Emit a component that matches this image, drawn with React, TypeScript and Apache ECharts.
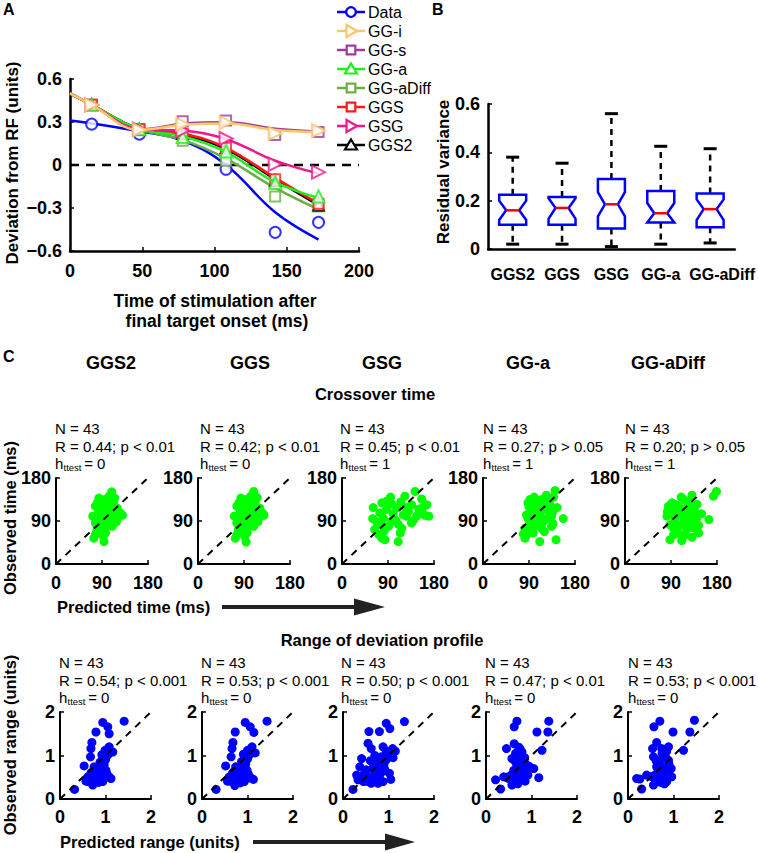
import React, { useEffect, useRef } from "react";
import * as echarts from "echarts";

const FONT = '"Liberation Sans", Arial, Helvetica, sans-serif';

// ---------- Panel A : deviation profiles ----------
const fitTimes = [0, 15, 48, 78, 108, 142, 172];
const markTimes = [15, 48, 78, 108, 142, 172];
const dataMarkTimes = [15, 48, 108, 142, 172];
const dataMarkVals = [0.285, 0.215, -0.03, -0.47, -0.4];
const dataFitVals = [0.31, 0.29, 0.235, 0.17, 0.0, -0.33, -0.52];

const ggiFit = [0.5, 0.42, 0.245, 0.28, 0.29, 0.245, 0.23];
const ggiMarks = [0.42, 0.245, 0.285, 0.295, 0.22, 0.24];
const ggsFitS = [0.5, 0.42, 0.25, 0.29, 0.3, 0.255, 0.235];
const ggsMarksS = [0.42, 0.25, 0.305, 0.31, 0.21, 0.23];
const ggaFit = [0.5, 0.42, 0.25, 0.2, 0.09, -0.12, -0.23];
const ggaMarks = [0.42, 0.25, 0.195, 0.095, -0.125, -0.22];
const ggaDiffFit = [0.5, 0.42, 0.25, 0.175, 0.045, -0.16, -0.31];
const ggaDiffMarks = [0.42, 0.25, 0.17, 0.03, -0.22, -0.29];
const ggsFit = [0.5, 0.42, 0.25, 0.22, 0.12, -0.09, -0.27];
const ggsMarks = [0.42, 0.25, 0.22, 0.12, -0.1, -0.27];
const gsgFit = [0.5, 0.42, 0.25, 0.24, 0.18, 0.03, -0.06];
const gsgMarks = [0.42, 0.25, 0.24, 0.185, 0.005, -0.05];
const ggs2Fit = [0.5, 0.42, 0.25, 0.21, 0.11, -0.1, -0.28];
const ggs2Marks = [0.42, 0.25, 0.22, 0.12, -0.11, -0.28];

const legendNames = ["Data", "GG-i", "GG-s", "GG-a", "GG-aDiff", "GGS", "GSG", "GGS2"];

// ---------- Panel B : residual variance box plots ----------
const boxCats = ["GGS2", "GGS", "GSG", "GG-a", "GG-aDiff"];
const boxLow = [0.02, 0.02, 0.01, 0.02, 0.025];
const boxQ1 = [0.1, 0.1, 0.085, 0.11, 0.09];
const boxMed = [0.16, 0.17, 0.185, 0.148, 0.165];
const boxQ3 = [0.225, 0.215, 0.29, 0.24, 0.23];
const boxHigh = [0.38, 0.355, 0.56, 0.425, 0.415];
const notchLo = [0.12, 0.125, 0.135, 0.11, 0.12];
const notchHi = [0.2, 0.21, 0.235, 0.19, 0.205];

// ---------- Panel C : columns ----------
const modelCols = ["GGS2", "GGS", "GSG", "GG-a", "GG-aDiff"];
const timeStatsR = ["R = 0.44; p < 0.01", "R = 0.42; p < 0.01", "R = 0.45; p < 0.01", "R = 0.27; p > 0.05", "R = 0.20; p > 0.05"];
const timeStatsH = ["0", "0", "1", "1", "1"];
const rangeStatsR = ["R = 0.54; p < 0.001", "R = 0.53; p < 0.001", "R = 0.50; p < 0.001", "R = 0.47; p < 0.01", "R = 0.53; p < 0.001"];
const rangeStatsH = ["0", "0", "0", "0", "0"];
const timeTicks = [0, 90, 180];
const rangeTicks = [0, 1, 2];

// crossover time (predicted, observed) ms
const crossGGS2 = [[109,151],[115,138],[104,142],[84,138],[81,128],[94,128],[77,121],[101,119],[120,117],[91,113],[84,110],[101,110],[126,107],[110,103],[130,102],[97,100],[79,96],[120,96],[87,89],[104,89],[77,86],[110,79],[94,75],[81,75],[97,65],[77,62],[74,54],[94,47],[88,120],[113,125],[107,95],[90,83],[100,80],[72,100],[118,88],[85,102],[96,135],[106,130],[80,70],[92,58],[112,112],[99,92],[83,115]];
const crossGGS = [[109,152],[116,139],[103,142],[84,138],[80,128],[94,129],[76,121],[100,119],[121,117],[90,113],[83,110],[100,110],[127,106],[109,103],[129,102],[96,100],[78,96],[119,96],[86,89],[103,89],[76,86],[109,79],[93,75],[80,75],[96,65],[76,62],[73,54],[94,46],[87,120],[112,125],[106,95],[89,83],[99,80],[71,100],[117,88],[84,102],[95,135],[105,130],[79,70],[91,58],[111,112],[98,92],[82,115]];
const crossGSG = [[143,152],[123,142],[156,136],[78,128],[97,126],[136,124],[166,124],[61,118],[107,117],[87,114],[74,107],[120,103],[126,100],[146,100],[162,102],[81,96],[97,89],[136,86],[78,82],[91,79],[117,75],[64,72],[114,65],[78,54],[110,47],[84,51],[130,110],[150,115],[100,105],[115,130],[170,100],[60,95],[88,132],[140,92],[68,88],[105,92],[155,108],[95,140],[125,118],[83,70],[72,62],[158,118],[110,83]];
const crossGGa = [[141,154],[124,144],[88,128],[108,128],[131,124],[98,117],[121,114],[137,110],[85,103],[111,103],[134,100],[105,96],[157,95],[92,89],[118,89],[137,84],[82,75],[115,75],[134,79],[98,65],[79,63],[82,54],[111,47],[143,51],[95,110],[115,135],[100,140],[128,132],[90,120],[120,120],[108,85],[125,95],[88,95],[102,80],[145,118],[112,112],[130,105],[95,72],[85,60],[120,68],[100,122],[138,140],[92,135]];
const crossGGaDiff = [[179,152],[173,142],[131,144],[115,135],[85,121],[101,124],[124,124],[141,125],[95,114],[118,110],[137,110],[82,100],[98,100],[121,98],[137,100],[164,93],[88,82],[111,82],[128,86],[144,81],[101,72],[121,72],[95,61],[144,65],[131,56],[111,49],[88,51],[108,118],[92,128],[115,95],[130,115],[105,105],[125,130],[140,95],[98,90],[118,60],[83,110],[110,140],[150,105],[95,75],[135,75],[105,64],[127,105]];

// range of deviation profile (predicted, observed) units
const rangeGGS2 = [[1.41,1.79],[0.94,1.76],[1.05,1.66],[1.08,1.5],[0.79,1.54],[0.7,1.3],[0.68,1.16],[0.67,0.97],[1.08,1.2],[0.99,1.12],[1.16,1.08],[1.05,1.01],[0.94,0.93],[0.9,0.74],[0.75,0.74],[0.53,0.76],[1.01,0.66],[0.83,0.63],[0.68,0.59],[0.61,0.51],[0.75,0.51],[0.94,0.51],[1.08,0.51],[0.57,0.41],[0.75,0.44],[0.94,0.4],[1.12,0.47],[0.72,0.32],[0.32,0.22],[0.86,0.59],[0.97,0.78],[0.8,0.45],[0.65,0.45],[0.88,0.85],[1.0,0.9],[0.7,0.62],[0.85,0.38],[0.62,0.4],[1.03,0.58],[0.78,0.55],[0.92,1.02],[0.96,0.46],[0.72,0.48]];
const rangeGGS = [[1.43,1.79],[0.95,1.76],[1.06,1.66],[1.14,1.53],[0.73,1.54],[0.68,1.3],[0.66,1.16],[0.64,0.97],[1.1,1.2],[1.0,1.12],[1.17,1.06],[1.04,1.01],[0.93,0.93],[0.88,0.74],[0.74,0.74],[0.52,0.76],[0.99,0.66],[0.82,0.63],[0.67,0.59],[0.6,0.51],[0.74,0.51],[0.93,0.51],[1.08,0.48],[0.56,0.41],[0.74,0.44],[0.93,0.4],[1.13,0.45],[0.72,0.31],[0.31,0.22],[0.85,0.59],[0.96,0.8],[0.8,0.46],[0.64,0.45],[0.87,0.86],[1.0,0.92],[0.7,0.63],[0.84,0.37],[0.61,0.41],[1.02,0.57],[0.78,0.54],[0.91,1.03],[0.97,0.47],[0.71,0.49]];
const rangeGSG = [[1.35,1.78],[0.95,1.74],[1.03,1.62],[0.8,1.55],[0.57,1.55],[0.55,1.28],[0.62,1.16],[0.88,1.2],[1.09,1.16],[0.98,1.05],[0.84,0.97],[0.95,0.9],[0.77,0.82],[0.41,0.93],[0.37,0.74],[0.51,0.67],[0.44,0.55],[0.59,0.51],[0.66,0.82],[0.73,0.67],[0.91,0.7],[0.66,0.7],[1.02,0.59],[0.88,0.4],[0.62,0.36],[0.51,0.51],[0.55,0.4],[0.77,0.36],[0.33,0.44],[0.22,0.22],[0.7,0.55],[0.8,0.5],[1.05,0.45],[0.85,0.62],[0.95,1.1],[1.15,1.1],[0.45,0.4],[0.7,1.0],[0.6,0.88],[0.3,0.55],[0.9,0.8],[0.75,0.45],[1.1,0.95]];
const rangeGGa = [[0.68,1.79],[0.62,1.66],[1.38,1.79],[1.12,1.54],[1.36,1.54],[1.23,1.12],[0.45,1.16],[0.62,1.27],[0.72,1.19],[0.79,1.08],[0.57,0.93],[0.75,0.93],[0.68,0.78],[0.86,0.82],[1.05,0.7],[0.61,0.66],[0.79,0.63],[0.68,0.55],[0.39,0.51],[0.5,0.47],[0.83,0.51],[1.16,0.49],[0.21,0.44],[0.57,0.32],[0.32,0.23],[0.86,0.41],[0.72,0.4],[0.65,1.05],[0.8,0.72],[0.6,0.45],[0.92,0.55],[0.7,0.6],[0.55,0.55],[0.85,0.95],[0.75,1.15],[0.65,0.85],[0.9,0.6],[0.45,0.5],[0.78,0.45],[0.62,0.58],[0.7,0.35],[0.82,0.65],[0.95,0.75]];
const rangeGGaDiff = [[0.7,1.79],[0.57,1.66],[1.46,1.81],[0.99,1.54],[1.36,1.54],[1.22,1.12],[0.63,1.3],[0.54,1.16],[0.74,1.16],[0.89,1.2],[0.56,0.97],[0.81,1.01],[0.7,0.89],[0.89,0.89],[0.63,0.74],[0.81,0.74],[0.41,0.55],[0.19,0.47],[0.59,0.55],[0.78,0.59],[0.96,0.51],[0.7,0.44],[0.56,0.32],[0.3,0.23],[0.85,0.4],[0.26,0.46],[0.75,1.05],[0.85,1.1],[0.65,0.6],[0.72,0.7],[0.88,0.65],[0.6,0.45],[0.78,0.5],[0.68,0.82],[0.9,0.8],[0.5,0.52],[0.72,0.38],[0.83,0.95],[0.62,0.88],[0.95,0.7],[0.66,0.5],[0.8,0.35],[0.75,0.62]];

const crossSets = [crossGGS2, crossGGS, crossGSG, crossGGa, crossGGaDiff];
const rangeSets = [rangeGGS2, rangeGGS, rangeGSG, rangeGGa, rangeGGaDiff];

// ---------- layout ----------
const row1Left = [56, 198, 342, 483, 625];
const row2Left = [60, 202, 343, 486, 628];
const row1TextX = [55, 200, 340, 483, 625];
const row2TextX = [59, 201, 341, 485, 628];
const colTitleX = [111, 250, 382, 528, 668];

const zip = (xs: number[], ys: number[]) => xs.map((x, i) => [x, ys[i]]);

function axisBase(fs: number, margin: number) {
  return {
    axisLine: { show: true, onZero: false, lineStyle: { color: "#000", width: 2 } },
    axisTick: { show: true, inside: true, length: 4, lineStyle: { color: "#000", width: 1.5 } },
    splitLine: { show: false },
    axisLabel: { color: "#000", fontSize: fs, fontWeight: "bold", fontFamily: FONT, margin },
  };
}

function txt(x: number, y: number, text: string, size: number, bold: boolean, align = "left", rot = 0): any {
  return {
    type: "text",
    x,
    y,
    rotation: rot,
    style: {
      text,
      fill: "#000",
      fontSize: size,
      fontWeight: bold ? "bold" : "normal",
      fontFamily: FONT,
      textAlign: align,
      textVerticalAlign: "middle",
    },
  };
}

function statBlock(x: number, yN: number, r: string, h: string): any[] {
  return [
    txt(x, yN, "N = 43", 15, false),
    txt(x, yN + 18, r, 15, false),
    txt(x, yN + 35, "h", 15, false),
    txt(x + 8.5, yN + 39, "ttest", 9.5, false),
    txt(x + 25, yN + 35, " = " + h, 15, false),
  ];
}

function legendMarker(kind: string, cx: number, cy: number, color: string): any {
  const style = { fill: "#fff", stroke: color, lineWidth: 2.2 };
  if (kind === "circle") return { type: "circle", shape: { cx, cy, r: 4.8 }, style };
  if (kind === "rect") return { type: "rect", shape: { x: cx - 4.3, y: cy - 4.3, width: 8.6, height: 8.6 }, style };
  if (kind === "up") return { type: "polygon", shape: { points: [[cx, cy - 5.5], [cx + 6, cy + 4.5], [cx - 6, cy + 4.5]] }, style };
  return { type: "polygon", shape: { points: [[cx + 6, cy], [cx - 4.5, cy - 6], [cx - 4.5, cy + 6]] }, style };
}

export default function App() {
  const ref = useRef<HTMLDivElement>(null);
  useEffect(() => {
    if (!ref.current) return;
    const chart = echarts.init(ref.current, undefined, { renderer: "svg" });

    const grids: any[] = [
      { left: 70, top: 79, width: 289, height: 172 },
      { left: 488, top: 104, width: 247, height: 145 },
    ];
    const xAxes: any[] = [
      { gridIndex: 0, type: "value", min: 0, max: 200, interval: 50, ...axisBase(18, 11) },
      {
        gridIndex: 1,
        type: "category",
        data: boxCats,
        ...axisBase(16, 17),
        axisTick: { show: false },
      },
    ];
    xAxes[1].axisLabel = {
      ...xAxes[1].axisLabel,
      interval: 0,
      hideOverlap: false,
      formatter: (v: string) => (v === "GG-aDiff" ? "{w|" + v + "}" : v),
      rich: {
        w: { fontSize: 16, fontWeight: "bold", fontFamily: FONT, color: "#000", padding: [0, 0, 0, 24] },
      },
    };
    const yAxes: any[] = [
      {
        gridIndex: 0,
        type: "value",
        min: -0.6,
        max: 0.6,
        interval: 0.3,
        ...axisBase(18, 8),
        axisLabel: {
          ...axisBase(18, 8).axisLabel,
          formatter: (v: number) => (v < 0 ? "\u2212" + Math.abs(v) : String(v)),
        },
      },
      { gridIndex: 1, type: "value", min: 0, max: 0.6, interval: 0.2, ...axisBase(18, 8) },
    ];
    xAxes[0].axisLine.lineStyle.width = 2.5;
    yAxes[0].axisLine.lineStyle.width = 2.5;
    xAxes[1].axisLine.lineStyle.width = 2.5;
    yAxes[1].axisLine.lineStyle.width = 2.5;

    const series: any[] = [];

    // zero line panel A
    series.push({
      type: "line",
      xAxisIndex: 0,
      yAxisIndex: 0,
      data: [[0, 0], [200, 0]],
      symbol: "none",
      silent: true,
      lineStyle: { color: "#000", width: 2.5, type: [9, 7] },
      z: 1,
    });

    const models = [
      { name: "GG-s", color: "#9B3C9E", symbol: "emptyRect", rot: 0, size: 10, fit: ggsFitS, marks: ggsMarksS },
      { name: "GG-aDiff", color: "#6AAE44", symbol: "emptyRect", rot: 0, size: 10, fit: ggaDiffFit, marks: ggaDiffMarks },
      { name: "GGS2", color: "#000000", symbol: "emptyTriangle", rot: 0, size: 11, fit: ggs2Fit, marks: ggs2Marks },
      { name: "GGS", color: "#FF1A1A", symbol: "emptyRect", rot: 0, size: 10, fit: ggsFit, marks: ggsMarks },
      { name: "GG-a", color: "#1EF01E", symbol: "emptyTriangle", rot: 0, size: 12, fit: ggaFit, marks: ggaMarks },
      { name: "GSG", color: "#F0188C", symbol: "emptyTriangle", rot: -90, size: 13, fit: gsgFit, marks: gsgMarks },
      { name: "GG-i", color: "#F9C66A", symbol: "emptyTriangle", rot: -90, size: 13, fit: ggiFit, marks: ggiMarks },
    ];
    const legendStyle: Record<string, { color: string; kind: string }> = {
      Data: { color: "#0000FF", kind: "circle" },
      "GG-i": { color: "#F9C66A", kind: "right" },
      "GG-s": { color: "#9B3C9E", kind: "rect" },
      "GG-a": { color: "#1EF01E", kind: "up" },
      "GG-aDiff": { color: "#6AAE44", kind: "rect" },
      GGS: { color: "#FF1A1A", kind: "rect" },
      GSG: { color: "#F0188C", kind: "right" },
      GGS2: { color: "#000000", kind: "up" },
    };

    // Data
    series.push({
      name: "Data",
      type: "line",
      xAxisIndex: 0,
      yAxisIndex: 0,
      data: zip(fitTimes, dataFitVals),
      smooth: 0.4,
      showSymbol: false,
      symbol: "none",
      lineStyle: { color: "#0000FF", width: 2.5 },
      z: 2,
    });
    series.push({
      name: "Data pts",
      type: "scatter",
      xAxisIndex: 0,
      yAxisIndex: 0,
      data: zip(dataMarkTimes, dataMarkVals),
      symbol: "emptyCircle",
      symbolSize: 11,
      itemStyle: { color: "#0000FF", borderWidth: 2.2 },
      z: 3,
    });

    models.forEach((m, k) => {
      series.push({
        name: m.name,
        type: "line",
        xAxisIndex: 0,
        yAxisIndex: 0,
        data: zip(fitTimes, m.fit),
        smooth: 0.4,
        showSymbol: false,
        symbol: "none",
        lineStyle: { color: m.color, width: m.name === "GG-s" ? 2 : 2.5 },
        z: 4 + k,
      });
      series.push({
        name: m.name + " pts",
        type: "scatter",
        xAxisIndex: 0,
        yAxisIndex: 0,
        data: zip(markTimes, m.marks),
        symbol: m.symbol,
        symbolRotate: m.rot,
        symbolSize: m.size,
        itemStyle: { color: m.color, borderWidth: 2.2 },
        z: 4 + k,
      });
    });

    // Panel B box plots
    const boxData = boxCats.map((_, i) => [i, boxLow[i], boxQ1[i], boxMed[i], boxQ3[i], boxHigh[i], notchLo[i], notchHi[i]]);
    series.push({
      type: "custom",
      xAxisIndex: 1,
      yAxisIndex: 1,
      data: boxData,
      encode: { x: 0, y: [1, 2, 3, 4, 5] },
      renderItem: (params: any, api: any) => {
        const idx = api.value(0);
        const c = (v: number) => api.coord([idx, v]);
        const x = c(api.value(3))[0];
        const ylo = c(api.value(1))[1];
        const yq1 = c(api.value(2))[1];
        const ym = c(api.value(3))[1];
        const yq3 = c(api.value(4))[1];
        const yhi = c(api.value(5))[1];
        const ynl = c(api.value(6))[1];
        const ynh = c(api.value(7))[1];
        const hw = 13.5, nw = 6.5, cap = 6.5;
        const dash = { stroke: "#000", lineWidth: 2.5, lineDash: [6, 5] };
        return {
          type: "group",
          children: [
            { type: "line", shape: { x1: x, y1: yq3, x2: x, y2: yhi }, style: dash },
            { type: "line", shape: { x1: x, y1: yq1, x2: x, y2: ylo }, style: dash },
            { type: "line", shape: { x1: x - cap, y1: yhi, x2: x + cap, y2: yhi }, style: { stroke: "#000", lineWidth: 3 } },
            { type: "line", shape: { x1: x - cap, y1: ylo, x2: x + cap, y2: ylo }, style: { stroke: "#000", lineWidth: 3 } },
            {
              type: "polygon",
              shape: {
                points: [
                  [x - hw, yq3], [x + hw, yq3], [x + hw, ynh], [x + nw, ym], [x + hw, ynl],
                  [x + hw, yq1], [x - hw, yq1], [x - hw, ynl], [x - nw, ym], [x - hw, ynh],
                ],
              },
              style: { fill: "#fff", stroke: "#0000FF", lineWidth: 2.5 },
            },
            { type: "line", shape: { x1: x - nw, y1: ym, x2: x + nw, y2: ym }, style: { stroke: "#FF0000", lineWidth: 2.5 } },
          ],
        };
      },
      z: 5,
    });

    // Panel C scatter grids
    const graphics: any[] = [];
    for (let i = 0; i < 5; i++) {
      const g1 = grids.length;
      grids.push({ left: row1Left[i], top: 478, width: 92, height: 86 });
      xAxes.push({ gridIndex: g1, type: "value", min: timeTicks[0], max: timeTicks[2], interval: timeTicks[1], ...axisBase(18, 10) });
      yAxes.push({ gridIndex: g1, type: "value", min: timeTicks[0], max: timeTicks[2], interval: timeTicks[1], ...axisBase(18, 5) });
      series.push({
        type: "scatter",
        xAxisIndex: g1,
        yAxisIndex: g1,
        data: crossSets[i],
        symbolSize: 9,
        itemStyle: { color: "#00FF00", opacity: 1 },
        z: 2,
      });
      series.push({
        type: "line",
        xAxisIndex: g1,
        yAxisIndex: g1,
        data: [[0, 0], [180, 180]],
        symbol: "none",
        silent: true,
        lineStyle: { color: "#000", width: 2, type: [7, 6] },
        z: 3,
      });
      graphics.push(...statBlock(row1TextX[i], 428, timeStatsR[i], timeStatsH[i]));
    }
    for (let i = 0; i < 5; i++) {
      const g2 = grids.length;
      grids.push({ left: row2Left[i], top: 712, width: 91, height: 87 });
      xAxes.push({ gridIndex: g2, type: "value", min: rangeTicks[0], max: rangeTicks[2], interval: rangeTicks[1], ...axisBase(18, 9) });
      yAxes.push({ gridIndex: g2, type: "value", min: rangeTicks[0], max: rangeTicks[2], interval: rangeTicks[1], ...axisBase(18, 5) });
      series.push({
        type: "scatter",
        xAxisIndex: g2,
        yAxisIndex: g2,
        data: rangeSets[i],
        symbolSize: 9,
        itemStyle: { color: "#0000FF", opacity: 1 },
        z: 2,
      });
      series.push({
        type: "line",
        xAxisIndex: g2,
        yAxisIndex: g2,
        data: [[0, 0], [2, 2]],
        symbol: "none",
        silent: true,
        lineStyle: { color: "#000", width: 2, type: [7, 6] },
        z: 3,
      });
      graphics.push(...statBlock(row2TextX[i], 662, rangeStatsR[i], rangeStatsH[i]));
    }

    // legend of panel A (line + marker + label)
    legendNames.forEach((nm, k) => {
      const y = 12 + k * 19;
      const st = legendStyle[nm];
      graphics.push({ type: "line", shape: { x1: 337, y1: y, x2: 365, y2: y }, style: { stroke: st.color, lineWidth: 2.5 } });
      graphics.push(legendMarker(st.kind, 351, y, st.color));
      graphics.push(txt(368, y, nm, 16, false));
    });

    // titles and labels
    graphics.push(txt(3, 9, "A", 16, true));
    graphics.push(txt(432, 9, "B", 16, true));
    graphics.push(txt(3, 356, "C", 16, true));
    graphics.push(txt(12, 163, "Deviation from RF (units)", 17, true, "center", Math.PI / 2));
    graphics.push(txt(215, 301, "Time of stimulation after", 17.5, true, "center"));
    graphics.push(txt(217, 321, "final target onset (ms)", 17.5, true, "center"));
    graphics.push(txt(443, 172, "Residual variance", 17, true, "center", Math.PI / 2));
    modelCols.forEach((m, i) => graphics.push(txt(colTitleX[i], 363, m, 18, true, "center")));
    graphics.push(txt(375, 394, "Crossover time", 16.5, true, "center"));
    graphics.push(txt(382, 640, "Range of deviation profile", 16.5, true, "center"));
    graphics.push(txt(10, 518, "Observed time (ms)", 16.5, true, "center", Math.PI / 2));
    graphics.push(txt(10, 745, "Observed range (units)", 16.5, true, "center", Math.PI / 2));
    graphics.push(txt(57, 607, "Predicted time (ms)", 16.5, true, "left"));
    graphics.push(txt(60, 842, "Predicted range (units)", 16.5, true, "left"));
    // arrows
    graphics.push({ type: "line", shape: { x1: 222, y1: 607, x2: 360, y2: 607 }, style: { stroke: "#222", lineWidth: 4 } });
    graphics.push({ type: "polygon", shape: { points: [[354, 598.5], [385, 607], [354, 615.5]] }, style: { fill: "#222" } });
    graphics.push({ type: "line", shape: { x1: 253, y1: 842, x2: 390, y2: 842 }, style: { stroke: "#222", lineWidth: 4 } });
    graphics.push({ type: "polygon", shape: { points: [[385, 833.5], [415, 842], [385, 850.5]] }, style: { fill: "#222" } });

    chart.setOption({
      animation: false,
      backgroundColor: "#fff",
      textStyle: { fontFamily: FONT },
      grid: grids,
      xAxis: xAxes,
      yAxis: yAxes,
      series,
      graphic: graphics,
    });
    return () => chart.dispose();
  }, []);
  return (
    <div
      ref={ref}
      style={{ position: "absolute", left: 0, top: 0, width: 758, height: 853, background: "#fff" }}
    />
  );
}
